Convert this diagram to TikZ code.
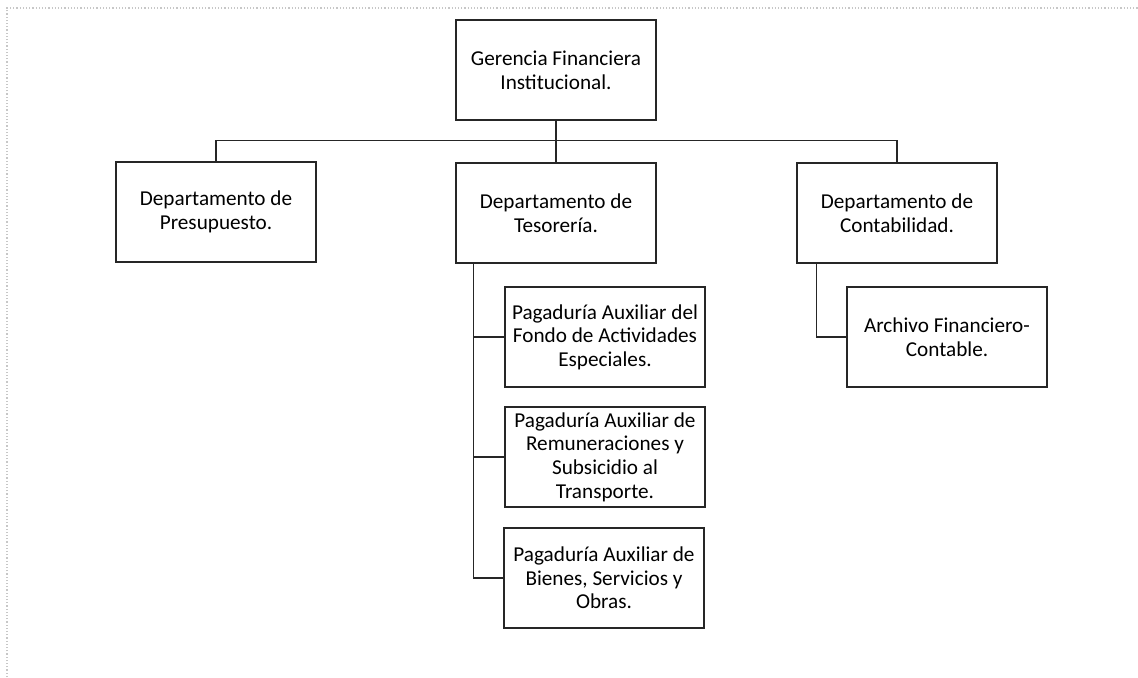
\documentclass[tikz,border=0pt]{standalone}
\usepackage{fontspec}
\setmainfont{Carlito}
\usetikzlibrary{calc}
\definecolor{LineClr}{rgb}{0.15,0.15,0.15}
\definecolor{FrameClr}{rgb}{0.78,0.78,0.78}

\begin{document}
\begin{tikzpicture}[x=0.5pt,y=-0.5pt,
  unidad/.style={draw=LineClr,line width=0.7pt,minimum width=100pt,minimum height=50pt,
    align=center,inner sep=2pt,font=\fontsize{10.6}{11.8}\selectfont},
  enlace/.style={draw=LineClr,line width=0.6pt}]
\useasboundingbox (0,0) rectangle (1138,677);
\draw[FrameClr,densely dotted,line width=0.6pt] (7,677) -- (7,8) -- (1138,8);


\node[unidad] (gerencia) at (556,70) {Gerencia Financiera\\Institucional.};

\node[unidad] (presupuesto) at (216,212) {Departamento de\\Presupuesto.};
\node[unidad] (tesoreria) at (556,213) {Departamento de\\Tesorería.};
\node[unidad] (contabilidad) at (897,213) {Departamento de\\Contabilidad.};

\node[unidad] (fondo) at (605,337) {Pagaduría Auxiliar del\\Fondo de Actividades\\Especiales.};
\node[unidad] (remuneraciones) at (605,457) {Pagaduría Auxiliar de\\Remuneraciones y\\Subsicidio al\\Transporte.};
\node[unidad] (bienes) at (604,578) {Pagaduría Auxiliar de\\Bienes, Servicios y\\Obras.};

\node[unidad] (archivo) at (947,337) {Archivo Financiero-\\Contable.};

\coordinate (troncoT) at ($(tesoreria.south west)+(18,0)$);
\coordinate (troncoC) at ($(contabilidad.south west)+(20,0)$);


\draw[enlace] (gerencia.south) -- (tesoreria.north);
\draw[enlace] (presupuesto.north) -- ++(0,-21) -| (contabilidad.north);

\draw[enlace] (troncoT) |- (bienes.west);
\draw[enlace] (troncoT |- fondo.west) -- (fondo.west);
\draw[enlace] (troncoT |- remuneraciones.west) -- (remuneraciones.west);

\draw[enlace] (troncoC) |- (archivo.west);

\end{tikzpicture}
\end{document}
